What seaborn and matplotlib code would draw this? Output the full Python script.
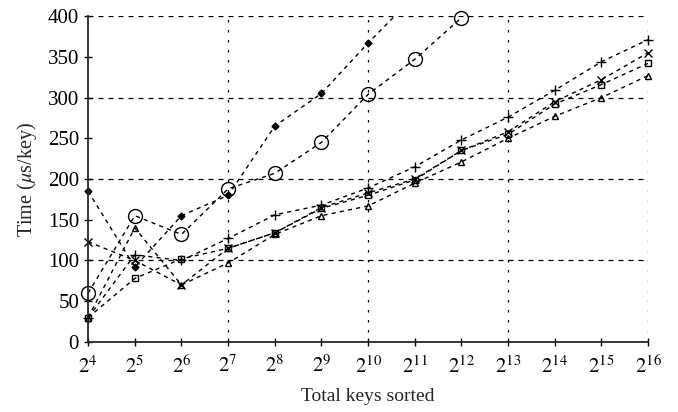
import numpy as np
import pandas as pd
import matplotlib
matplotlib.use("Agg")
import matplotlib.pyplot as plt
import seaborn as sns

# valores (tiempo en us por clave)
exponents = [4, 5, 6, 7, 8, 9, 10, 11, 12, 13, 14, 15, 16]
diamond = [185, 92, 155, 180, 265, 305, 367, 425]
circle = [60, 155, 132, 188, 207, 245, 304, 347, 398]
plus = [30, 107, 100, 127, 156, 168, 189, 215, 248, 276, 309, 344, 371]
cross = [123, 100, 70, 115, 134, 165, 183, 200, 235, 258, 295, 322, 355]
square = [30, 78, 102, 115, 134, 164, 180, 199, 235, 255, 292, 316, 342]
triangle = [30, 140, 70, 97, 132, 155, 167, 195, 221, 250, 277, 300, 327]

series = [
    (diamond, dict(marker="D", markersize=3.5, markerfacecolor="black")),
    (circle, dict(marker="o", markersize=10, markerfacecolor="none")),
    (plus, dict(marker="+", markersize=7)),
    (cross, dict(marker="x", markersize=6)),
    (square, dict(marker="s", markersize=5, markerfacecolor="none")),
    (triangle, dict(marker="^", markersize=5, markerfacecolor="none")),
]

sns.set_style("ticks")
plt.rcParams["font.family"] = ["Liberation Serif", "DejaVu Serif"]
plt.rcParams["mathtext.fontset"] = "stix"

fig = plt.figure(figsize=(6.78, 4.12), dpi=100)
ax = fig.add_axes([0.13, 0.17, 0.826, 0.791])

for vals, kw in series:
    keys = [2 ** e for e in exponents[:len(vals)]]
    # lineas (recortadas por los ejes)
    sns.lineplot(x=keys, y=vals, ax=ax, color="black", linestyle=(0, (3, 3)),
                 linewidth=1.0)
    # marcadores dentro del rango, sin recortar en el borde
    inside = [(k, v) for k, v in zip(keys, vals) if v <= 400]
    sns.lineplot(x=[k for k, v in inside], y=[v for k, v in inside], ax=ax,
                 color="black", linestyle="", markeredgecolor="black",
                 markeredgewidth=1.0, clip_on=False, **kw)

ax.set_xscale("log", base=2)
ax.set_xlim(2 ** 4, 2 ** 16)
ax.set_ylim(0, 400)
ax.set_xticks([2 ** e for e in exponents])
ax.set_xticklabels([r"$2^{%d}$" % e for e in exponents])
ax.minorticks_off()
ax.set_yticks(range(0, 401, 50))

# rejilla discontinua
for yv in [100, 200, 300, 400]:
    ax.axhline(yv, color="black", linestyle=(0, (4, 4)), linewidth=0.9, zorder=0)
for e in [7, 10, 13, 16]:
    ax.axvline(2 ** e, color="black", linestyle=(0, (2, 6)), linewidth=0.9, zorder=0)

for s in ["top", "right"]:
    ax.spines[s].set_visible(False)
ax.spines["left"].set_linewidth(1.3)
ax.spines["bottom"].set_linewidth(1.3)
ax.tick_params(axis="both", direction="inout", length=6, width=1, labelsize=15,
               colors="black")
ax.tick_params(axis="x", pad=7)
ax.set_xlabel("Total keys sorted", fontsize=14, labelpad=7)
ax.set_ylabel(r"Time ($\mu$s/key)", fontsize=14.5, labelpad=6)

fig.savefig("out.png", dpi=100)
